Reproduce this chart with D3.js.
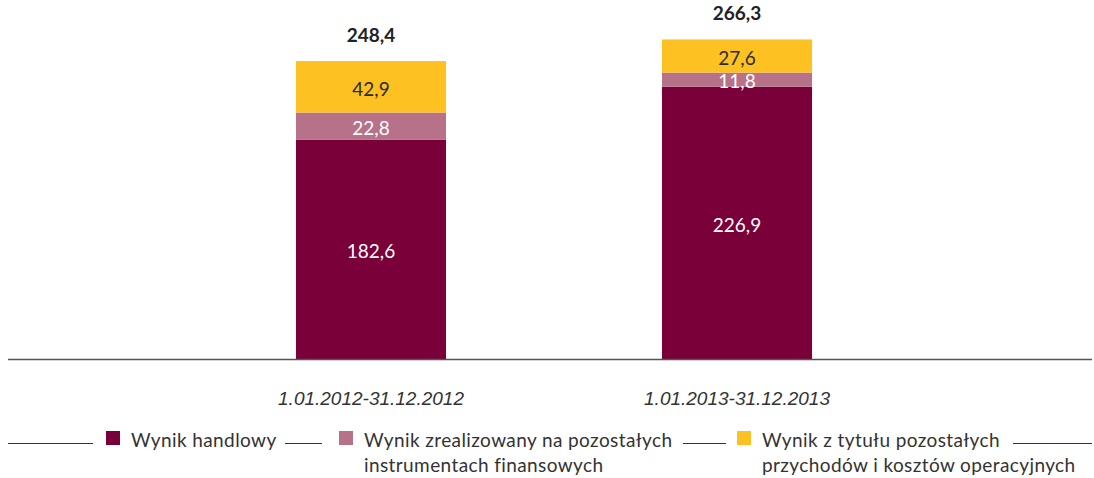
<!DOCTYPE html>
<html>
<head>
<meta charset="utf-8">
<script src="https://cdn.jsdelivr.net/npm/d3@7"></script>
<style>
  html, body { margin: 0; padding: 0; background: #fff; }
  svg { display: block; }
</style>
</head>
<body>
<svg id="chart" width="1094" height="478"></svg>
<script>
// Periods on the category axis
const periods = ["1.01.2012-31.12.2012", "1.01.2013-31.12.2013"];

// Components of the result (mln zł), one array per series
const tradingResult = [182.6, 226.9];
const realizedOther = [22.8, 11.8];
const otherOperating = [42.9, 27.6];

// Totals printed above each bar
const totals = [248.4, 266.3];

const seriesNames = [
  ["Wynik handlowy"],
  ["Wynik zrealizowany na pozostałych", "instrumentach finansowych"],
  ["Wynik z tytułu pozostałych", "przychodów i kosztów operacyjnych"]
];
const seriesColors = ["#7a0039", "#b77289", "#fdc221"];
const labelColors = ["#ffffff", "#ffffff", "#2b2b2b"];

const fmt = v => d3.format(".1f")(v).replace(".", ",");

const svg = d3.select("#chart");
const baseY = 359;
const textFont = "Lato, 'Open Sans', sans-serif";

const x = d3.scaleBand()
  .domain(periods)
  .range([188, 920])
  .paddingInner(0.59)
  .paddingOuter(0.295);

const y = d3.scaleLinear()
  .domain([0, 270])
  .range([baseY, baseY - 270 * 1.2]);

// Build stacked rows
const rows = periods.map((p, i) => ({
  period: p,
  s0: tradingResult[i],
  s1: realizedOther[i],
  s2: otherOperating[i]
}));
const keys = ["s0", "s1", "s2"];
const stacked = d3.stack().keys(keys)(rows);

const layers = svg.selectAll("g.layer")
  .data(stacked)
  .join("g")
  .attr("class", "layer")
  .attr("fill", (d, i) => seriesColors[i]);

layers.selectAll("rect")
  .data(d => d)
  .join("rect")
  .attr("x", d => x(d.data.period))
  .attr("width", x.bandwidth())
  .attr("y", d => y(d[1]))
  .attr("height", d => y(d[0]) - y(d[1]));

// Segment value labels
stacked.forEach((layer, li) => {
  svg.append("g")
    .selectAll("text")
    .data(layer)
    .join("text")
    .attr("x", d => x(d.data.period) + x.bandwidth() / 2)
    .attr("y", d => (y(d[0]) + y(d[1])) / 2 + 2)
    .attr("dy", "0.36em")
    .attr("text-anchor", "middle")
    .attr("font-family", textFont)
    .attr("font-size", 19)
    .attr("fill", labelColors[li])
    .text(d => fmt(d[1] - d[0]));
});

// Totals above bars
svg.append("g")
  .selectAll("text")
  .data(periods)
  .join("text")
  .attr("x", p => x(p) + x.bandwidth() / 2)
  .attr("y", (p, i) => y(totals[i]) - 26)
  .attr("dy", "0.36em")
  .attr("text-anchor", "middle")
  .attr("font-family", textFont)
  .attr("font-weight", "bold")
  .attr("font-size", 19)
  .attr("fill", "#222")
  .text((p, i) => fmt(totals[i]));

// Baseline
svg.append("line")
  .attr("x1", 8).attr("x2", 1092)
  .attr("y1", baseY + 0.5).attr("y2", baseY + 0.5)
  .attr("stroke", "#555")
  .attr("stroke-width", 1.3);

// Category axis labels
const xAxis = d3.axisBottom(x).tickSize(0).tickPadding(0);
const axisG = svg.append("g")
  .attr("transform", `translate(0, ${baseY})`)
  .call(xAxis);
axisG.select(".domain").remove();
axisG.selectAll("text")
  .attr("y", 39)
  .attr("dy", "0.36em")
  .attr("font-family", "'Liberation Sans', Arial, sans-serif")
  .attr("font-style", "italic")
  .attr("font-size", 19)
  .attr("fill", "#333");

// Legend
const legendY = 443;
const legendLines = [[8, 93], [285, 322], [683, 726], [1013, 1092]];
svg.append("g")
  .selectAll("line")
  .data(legendLines)
  .join("line")
  .attr("x1", d => d[0]).attr("x2", d => d[1])
  .attr("y1", legendY + 0.5).attr("y2", legendY + 0.5)
  .attr("stroke", "#333")
  .attr("stroke-width", 1);

const legendX = [106, 339, 737];
const items = svg.append("g")
  .selectAll("g")
  .data(seriesNames)
  .join("g")
  .attr("transform", (d, i) => `translate(${legendX[i]}, ${legendY})`);

items.append("rect")
  .attr("x", 0).attr("y", -12)
  .attr("width", 14).attr("height", 14)
  .attr("fill", (d, i) => seriesColors[i]);

items.append("text")
  .attr("font-family", textFont)
  .attr("font-size", 19)
  .attr("letter-spacing", 0.4)
  .attr("fill", "#333")
  .selectAll("tspan")
  .data(d => d)
  .join("tspan")
  .attr("x", (d, i, nodes) => 25)
  .attr("y", (d, i) => 4 + i * 24.5)
  .text(d => d);
</script>
</body>
</html>
